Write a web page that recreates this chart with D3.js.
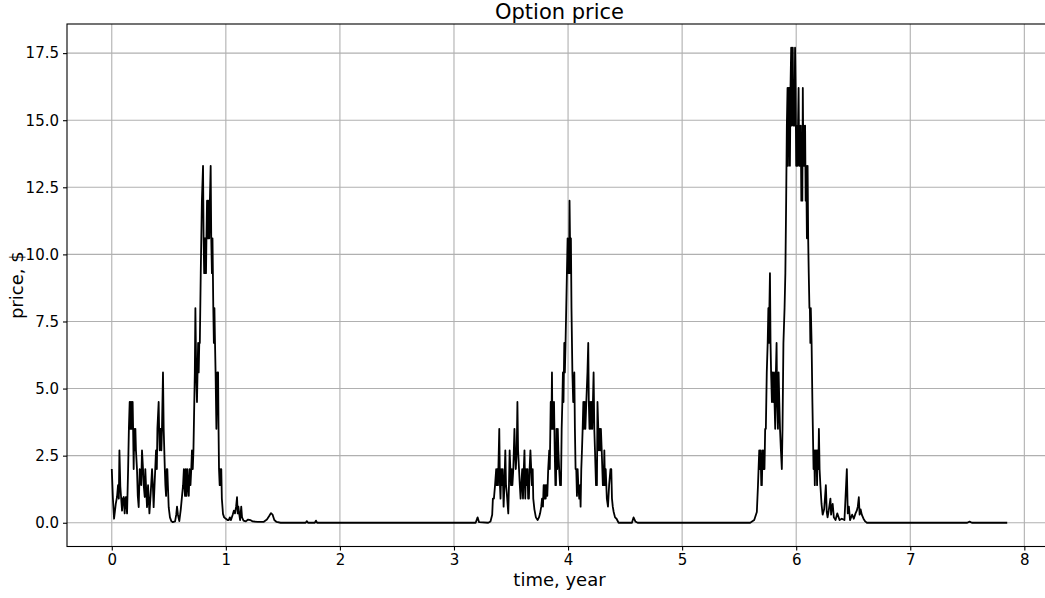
<!DOCTYPE html>
<html>
<head>
<meta charset="utf-8">
<script src="https://cdn.jsdelivr.net/npm/d3@7"></script>
<style>
  html, body { margin: 0; padding: 0; background: #fff; }
  svg { display: block; font-family: "DejaVu Sans", sans-serif; }
</style>
</head>
<body>
<svg id="chart" width="1045" height="598"></svg>
<script>
// ---- data ----
const title = "Option price";
const xLabel = "time, year";
const yLabel = "price, $";
const xTicks = [0, 1, 2, 3, 4, 5, 6, 7, 8];
const yTicks = [0, 2.5, 5, 7.5, 10, 12.5, 15, 17.5];

const times = [
  0.000,0.010,0.020,0.035,0.046,0.055,0.062,0.067,0.075,0.090,0.097,0.105,0.113,0.120,0.125,0.134,0.143,0.150,0.157,0.162,
  0.166,0.170,0.175,0.180,0.183,0.187,0.192,0.197,0.202,0.207,0.212,0.221,0.228,0.236,0.245,0.258,0.265,0.274,0.280,0.289,
  0.294,0.300,0.309,0.318,0.330,0.340,0.353,0.360,0.367,0.375,0.388,0.395,0.400,0.411,0.415,0.420,0.425,0.429,0.435,0.440,
  0.449,0.455,0.465,0.470,0.476,0.482,0.487,0.492,0.499,0.510,0.522,0.535,0.555,0.565,0.572,0.580,0.592,0.605,0.616,0.625,
  0.632,0.637,0.642,0.648,0.655,0.662,0.668,0.675,0.682,0.690,0.697,0.703,0.710,0.716,0.728,0.733,0.740,0.747,0.752,0.757,
  0.762,0.767,0.772,0.780,0.790,0.800,0.805,0.810,0.814,0.818,0.822,0.826,0.830,0.835,0.838,0.842,0.846,0.850,0.855,0.860,
  0.867,0.872,0.878,0.883,0.890,0.895,0.900,0.905,0.910,0.917,0.921,0.925,0.928,0.932,0.936,0.940,0.946,0.950,0.955,0.960,
  0.965,0.975,0.985,1.000,1.015,1.025,1.035,1.045,1.060,1.070,1.080,1.090,1.098,1.104,1.110,1.118,1.125,1.135,1.142,1.155,
  1.175,1.195,1.215,1.235,1.280,1.330,1.360,1.380,1.395,1.410,1.425,1.445,1.480,1.700,1.710,1.720,1.780,1.790,1.800,3.190,
  3.207,3.220,3.300,3.320,3.335,3.341,3.350,3.360,3.370,3.375,3.380,3.386,3.397,3.403,3.408,3.414,3.420,3.427,3.435,3.442,
  3.450,3.456,3.463,3.476,3.482,3.488,3.494,3.500,3.507,3.512,3.520,3.530,3.535,3.542,3.550,3.556,3.562,3.570,3.577,3.584,
  3.590,3.598,3.605,3.612,3.618,3.625,3.632,3.638,3.645,3.650,3.657,3.663,3.670,3.677,3.683,3.690,3.695,3.705,3.718,3.733,
  3.745,3.755,3.765,3.772,3.780,3.786,3.792,3.798,3.804,3.810,3.818,3.826,3.835,3.840,3.848,3.854,3.859,3.863,3.868,3.872,
  3.877,3.883,3.889,3.894,3.899,3.905,3.910,3.915,3.922,3.930,3.938,3.944,3.950,3.955,3.960,3.967,3.972,3.978,3.984,3.990,
  3.996,4.000,4.005,4.009,4.013,4.017,4.021,4.025,4.030,4.038,4.045,4.050,4.055,4.060,4.066,4.072,4.078,4.084,4.090,4.098,
  4.105,4.110,4.116,4.122,4.128,4.134,4.140,4.146,4.152,4.160,4.170,4.177,4.182,4.188,4.194,4.200,4.206,4.212,4.218,4.224,
  4.230,4.236,4.245,4.253,4.258,4.265,4.270,4.276,4.282,4.288,4.295,4.305,4.312,4.318,4.324,4.330,4.340,4.350,4.360,4.372,
  4.379,4.385,4.392,4.400,4.412,4.425,4.443,4.560,4.574,4.590,4.610,5.597,5.632,5.655,5.665,5.670,5.676,5.682,5.688,5.694,
  5.699,5.705,5.711,5.717,5.722,5.728,5.734,5.742,5.750,5.756,5.760,5.765,5.770,5.775,5.780,5.787,5.793,5.801,5.806,5.810,
  5.816,5.822,5.828,5.833,5.840,5.846,5.852,5.858,5.866,5.874,5.880,5.888,5.898,5.905,5.912,5.918,5.924,5.928,5.932,5.936,
  5.940,5.945,5.950,5.956,5.960,5.965,5.970,5.975,5.980,5.985,5.990,5.995,6.000,6.005,6.010,6.016,6.021,6.026,6.031,6.036,
  6.040,6.045,6.050,6.054,6.058,6.063,6.068,6.073,6.078,6.083,6.088,6.094,6.100,6.105,6.110,6.116,6.120,6.124,6.128,6.135,
  6.142,6.152,6.158,6.163,6.168,6.173,6.178,6.183,6.188,6.194,6.199,6.205,6.212,6.222,6.232,6.245,6.252,6.260,6.268,6.275,
  6.285,6.300,6.306,6.312,6.320,6.330,6.345,6.360,6.380,6.400,6.423,6.432,6.444,6.452,6.462,6.472,6.490,6.505,6.520,6.531,
  6.540,6.549,6.556,6.565,6.575,6.590,6.605,6.620,7.500,7.520,7.540,7.850
];

const prices = [
  2.0,0.9,0.15,0.7,0.96,1.4,0.9,2.7,1.35,0.45,0.9,0.96,0.35,0.9,0.96,0.35,1.95,3.5,4.5,3.5,
  4.5,3.5,4.5,3.5,4.5,3.5,2.0,3.5,2.7,3.5,2.7,2.0,1.0,0.58,2.0,1.4,2.7,2.0,1.4,0.96,
  2.0,1.4,0.58,1.4,0.35,1.0,2.0,1.4,0.58,1.4,2.7,2.0,3.5,4.5,3.5,2.7,3.5,3.5,2.7,3.5,
  5.6,3.5,2.0,1.4,1.0,2.0,2.0,1.4,0.58,0.2,0.06,0.02,0.05,0.3,0.6,0.3,0.06,0.5,1.0,1.4,
  2.0,1.4,1.0,2.0,1.0,2.0,1.4,1.0,2.0,1.4,2.0,2.7,2.0,2.7,5.6,8.0,5.6,4.5,5.6,6.7,
  5.6,6.7,6.7,9.3,12.0,13.3,10.6,9.3,10.6,9.3,10.6,9.3,10.6,12.0,10.6,12.0,10.6,12.0,10.6,12.0,
  13.3,10.6,9.3,10.6,8.0,6.7,8.0,6.7,5.6,3.5,4.5,5.6,4.5,5.6,3.5,2.0,1.4,2.0,1.4,2.0,
  0.9,0.33,0.2,0.15,0.1,0.1,0.2,0.1,0.3,0.45,0.35,0.6,0.95,0.35,0.6,0.3,0.1,0.6,0.2,0.08,
  0.05,0.12,0.1,0.05,0.03,0.03,0.12,0.25,0.36,0.3,0.1,0.03,0.0,0.0,0.06,0.0,0.0,0.08,0.0,0.0,
  0.2,0.02,0.0,0.05,0.3,0.9,0.9,1.4,2.0,1.4,2.0,1.4,3.5,1.4,0.9,2.0,1.4,2.0,0.6,1.4,
  2.7,1.4,1.1,0.35,1.4,2.7,2.0,1.4,2.0,1.4,2.0,3.5,2.7,2.0,2.7,4.5,2.7,2.0,1.4,0.9,
  1.4,2.0,0.9,2.0,2.7,0.9,2.0,1.4,2.0,0.9,0.9,2.0,2.7,2.0,1.4,2.0,0.9,0.5,0.2,0.1,
  0.2,0.35,0.6,0.9,0.6,1.4,0.9,1.4,0.9,1.4,1.0,2.0,2.7,2.0,4.5,3.5,5.6,3.5,4.5,3.5,
  4.5,2.7,1.4,1.4,3.5,2.0,3.5,2.7,2.0,1.4,1.4,3.5,4.5,5.6,4.5,6.7,5.6,6.7,8.0,9.3,
  10.6,9.3,10.6,9.3,12.0,10.6,9.3,10.6,8.0,5.6,4.5,4.5,5.6,3.5,2.0,2.0,1.0,2.0,1.4,0.9,
  1.4,0.6,2.0,2.7,3.5,4.5,3.5,4.5,3.5,4.5,5.6,6.7,4.5,3.5,4.5,3.5,4.5,3.5,4.5,5.6,
  3.5,2.7,1.4,1.4,4.5,3.5,2.7,3.5,2.7,3.5,2.7,1.4,1.4,2.7,1.4,2.0,0.9,0.6,1.4,2.0,
  2.0,0.9,0.6,0.4,0.2,0.15,0.0,0.0,0.2,0.05,0.0,0.0,0.1,0.4,1.4,2.0,2.7,2.0,2.7,1.4,
  1.4,2.7,2.0,2.7,2.0,3.5,3.5,5.6,6.7,8.0,6.7,8.0,9.3,6.7,5.6,4.5,5.6,4.5,5.6,4.5,
  3.5,5.6,6.7,4.5,3.5,5.6,4.5,3.5,2.7,2.0,3.5,6.7,8.0,9.3,12.0,14.8,16.2,13.3,16.2,14.8,
  16.2,13.3,16.2,17.7,14.8,16.2,17.7,14.8,16.2,14.8,17.7,16.2,13.3,14.8,13.3,14.8,16.2,13.3,14.8,13.3,
  14.8,12.0,13.3,12.0,16.2,13.3,14.8,13.3,14.8,12.0,13.3,10.6,13.3,10.6,9.3,8.0,8.0,6.7,8.0,6.7,
  4.5,2.0,2.7,1.4,2.7,2.0,2.7,1.4,2.7,2.0,3.5,2.0,1.4,0.7,0.3,0.5,0.9,1.4,0.4,0.2,
  0.45,0.9,0.3,0.55,0.7,0.2,0.1,0.35,0.1,0.15,0.1,0.9,2.0,0.35,0.6,0.1,0.3,0.15,0.35,0.45,
  0.6,0.95,0.3,0.5,0.3,0.15,0.05,0.0,0.0,0.04,0.0,0.0
];

const series = times.map((t, i) => ({ t: t, v: prices[i] }));

// ---- layout ----
const svg = d3.select("#chart");
const L = 67, R = 1052, T = 24, B = 546.5;

const tMin = d3.min(times), tMax = d3.max(times);
const vMin = d3.min(prices), vMax = d3.max(prices);
const tPad = (tMax - tMin) * 0.05, vPad = (vMax - vMin) * 0.05;

const x = d3.scaleLinear().domain([tMin - tPad, tMax + tPad]).range([L, R]);
const y = d3.scaleLinear().domain([vMin - vPad, vMax + vPad]).range([B, T]);

// grid
const grid = svg.append("g");
grid.selectAll("line.gx").data(xTicks).enter().append("line")
  .attr("x1", d => x(d)).attr("x2", d => x(d))
  .attr("y1", T).attr("y2", B)
  .attr("stroke", "#b0b0b0").attr("stroke-width", 1.1);
grid.selectAll("line.gy").data(yTicks).enter().append("line")
  .attr("x1", L).attr("x2", R)
  .attr("y1", d => y(d)).attr("y2", d => y(d))
  .attr("stroke", "#b0b0b0").attr("stroke-width", 1.1);

// line
const line = d3.line().x(d => x(d.t)).y(d => y(d.v));
svg.append("path").datum(series)
  .attr("d", line)
  .attr("fill", "none")
  .attr("stroke", "#000")
  .attr("stroke-width", 1.8)
  .attr("stroke-linejoin", "round");

// axes
const xAxis = d3.axisBottom(x).tickValues(xTicks).tickFormat(d3.format("d")).tickSize(4).tickPadding(4);
const yAxis = d3.axisLeft(y).tickValues(yTicks).tickFormat(d3.format(".1f")).tickSize(4).tickPadding(4);

const gx = svg.append("g").attr("transform", `translate(0,${B})`).call(xAxis);
const gy = svg.append("g").attr("transform", `translate(${L},0)`).call(yAxis);
[gx, gy].forEach(g => {
  g.select(".domain").remove();
  g.selectAll(".tick line").attr("stroke", "#000").attr("stroke-width", 1.1);
  g.selectAll(".tick text").attr("fill", "#000")
    .style("font-family", "'DejaVu Sans', sans-serif").style("font-size", "15px");
});

// spines
svg.append("rect")
  .attr("x", L).attr("y", T).attr("width", R - L).attr("height", B - T)
  .attr("fill", "none").attr("stroke", "#000").attr("stroke-width", 1.1);

// labels
svg.append("text").attr("x", (L + R) / 2).attr("y", 19)
  .attr("text-anchor", "middle").style("font-size", "21px").attr("fill", "#000")
  .text(title);
svg.append("text").attr("x", (L + R) / 2).attr("y", 586)
  .attr("text-anchor", "middle").style("font-size", "18px").attr("fill", "#000")
  .text(xLabel);
svg.append("text")
  .attr("transform", `translate(23,${(T + B) / 2}) rotate(-90)`)
  .attr("text-anchor", "middle").style("font-size", "18px").attr("fill", "#000")
  .text(yLabel);
</script>
</body>
</html>
